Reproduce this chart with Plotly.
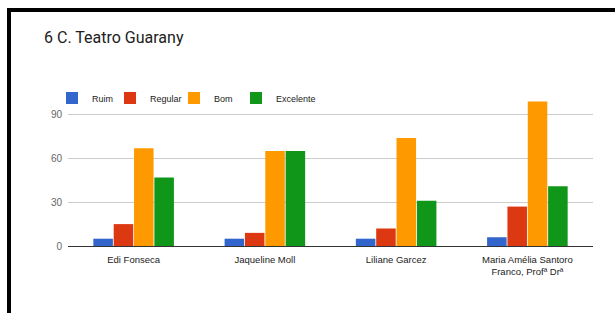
import plotly.graph_objects as go

categories = ["Edi Fonseca", "Jaqueline Moll", "Liliane Garcez",
              "Maria Amélia Santoro<br>Franco, Profª Drª"]
series_names = ["Ruim", "Regular", "Bom", "Excelente"]
ruim = [5, 5, 5, 6]
regular = [15, 9, 12, 27]
bom = [67, 65, 74, 99]
excelente = [47, 65, 31, 41]
y_ticks = [0, 30, 60, 90]

colors = ["#3366cc", "#dc3912", "#ff9900", "#109618"]
values = [ruim, regular, bom, excelente]

W, H = 615, 313
L, R, T, B = 68, 22, 100, 67
pw, ph = W - L - R, H - T - B

def px_x(p):
    return (p - L) / pw

def px_y(p):
    return (H - B - p) / ph

legend_ids = ["legend", "legend2", "legend3", "legend4"]
legend_left_px = [52, 110, 174, 236]

fig = go.Figure()
for name, vals, col, lid in zip(series_names, values, colors, legend_ids):
    fig.add_trace(go.Bar(name=name, x=categories, y=vals, marker_color=col,
                         marker_line_width=0, legend=lid))

shapes = [
    dict(type="rect", xref="paper", yref="paper", x0=px_x(7), x1=px_x(640),
         y0=px_y(12), y1=px_y(8), fillcolor="black", line_width=0, layer="above"),
    dict(type="rect", xref="paper", yref="paper", x0=px_x(7), x1=px_x(11),
         y0=px_y(340), y1=px_y(8), fillcolor="black", line_width=0, layer="above"),
]

legend_style = {}
for lid, lx in zip(legend_ids, legend_left_px):
    legend_style[lid] = dict(orientation="h", x=px_x(lx), xanchor="left", y=px_y(98),
                             yanchor="middle", font=dict(size=9, color="#222222"),
                             bgcolor="rgba(0,0,0,0)", itemwidth=30)

fig.update_layout(
    width=W, height=H, autosize=False,
    margin=dict(l=L, r=R, t=T, b=B),
    paper_bgcolor="white", plot_bgcolor="white",
    barmode="group", bargap=0.38, bargroupgap=0.04,
    title=dict(text="6 C. Teatro Guarany", x=44 / W, xanchor="left",
               y=1 - 37 / H, yanchor="middle",
               font=dict(family="Roboto", size=16, color="#212121")),
    font=dict(family="Liberation Sans", size=10, color="#222222"),
    shapes=shapes,
    showlegend=True,
    **legend_style,
)
fig.update_xaxes(showgrid=False, showline=False, ticks="", ticklabelstandoff=6,
                 tickfont=dict(size=9.5, color="#222222"))
fig.update_yaxes(range=[0, 100], tickvals=y_ticks, showgrid=True, gridcolor="#cccccc",
                 gridwidth=1, zeroline=True, zerolinecolor="#333333", zerolinewidth=1,
                 showline=False, ticks="", ticklabelstandoff=5,
                 tickfont=dict(size=10, color="#666666"))

fig.write_html("out.html", config={"displayModeBar": False},
               post_script="document.body.style.margin='0';document.body.style.overflow='hidden';")
